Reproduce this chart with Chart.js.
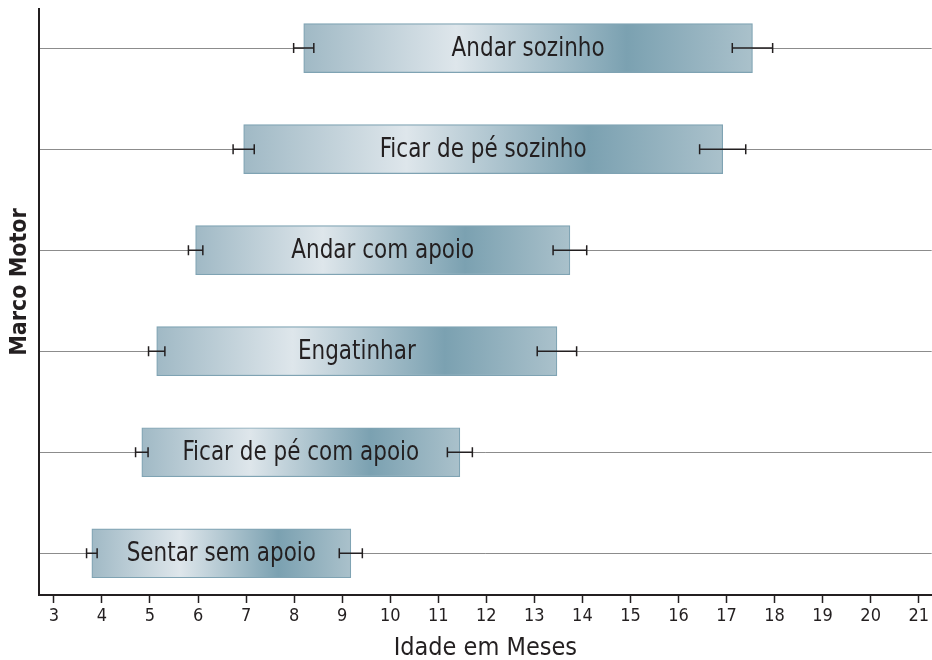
<!DOCTYPE html>
<html lang="pt">
<head>
<meta charset="utf-8">
<title>Marco Motor</title>
<script src="https://cdn.jsdelivr.net/npm/chart.js@4/dist/chart.umd.min.js"></script>
<style>
	html, body { margin: 0; padding: 0; background: #fff; }
	#wrap { width: 932px; height: 660px; }
</style>
</head>
<body>
<div id="wrap"><canvas id="chart"></canvas></div>
<script>
// marcos motores, de baixo para cima
const MARCOS = [
	"Sentar sem apoio",
	"Ficar de pé com apoio",
	"Engatinhar",
	"Andar com apoio",
	"Ficar de pé sozinho",
	"Andar sozinho",
];
const POSICAO = [1, 2, 3, 4, 5, 6];
// idade (meses) de inicio e fim de cada faixa
const INICIO = [3.79, 4.83, 5.14, 5.95, 6.95, 8.2];
const FIM = [9.18, 11.45, 13.47, 13.74, 16.92, 17.54];
// barras de erro em cada extremidade
const ERRO_INICIO = [0.11, 0.13, 0.17, 0.15, 0.22, 0.21];
const ERRO_FIM = [0.24, 0.26, 0.41, 0.35, 0.48, 0.42];
const X_TICKS = [3, 4, 5, 6, 7, 8, 9, 10, 11, 12, 13, 14, 15, 16, 17, 18, 19, 20, 21];

const FONTE = "'Liberation Sans Narrow', 'DejaVu Sans Condensed', Arial, sans-serif";
const TINTA = "#231f20";

function gradiente(ctx) {
	const chart = ctx.chart;
	if (!chart.chartArea || ctx.dataIndex === undefined) return "#a9c0cb";
	const x = chart.scales.x;
	const x0 = x.getPixelForValue(INICIO[ctx.dataIndex]);
	const x1 = x.getPixelForValue(FIM[ctx.dataIndex]);
	const g = chart.ctx.createLinearGradient(x0, 0, x1, 0);
	g.addColorStop(0, "#a0b9c5");
	g.addColorStop(0.34, "#dee6eb");
	g.addColorStop(0.72, "#7ba1b1");
	g.addColorStop(1, "#aac1cb");
	return g;
}

const rotulosEErros = {
	id: "rotulosEErros",
	afterDatasetsDraw(chart) {
		const { ctx, chartArea } = chart;
		const sx = chart.scales.x;
		const sy = chart.scales.y;
		ctx.save();
		ctx.strokeStyle = TINTA;
		ctx.lineWidth = 1.5;
		const erro = (v, e, y) => {
			const a = sx.getPixelForValue(v - e);
			const b = sx.getPixelForValue(v + e);
			ctx.beginPath();
			ctx.moveTo(a, y);
			ctx.lineTo(b, y);
			ctx.moveTo(a, y - 5);
			ctx.lineTo(a, y + 5);
			ctx.moveTo(b, y - 5);
			ctx.lineTo(b, y + 5);
			ctx.stroke();
		};
		ctx.fillStyle = TINTA;
		ctx.font = "26px " + FONTE;
		ctx.textAlign = "center";
		ctx.textBaseline = "middle";
		MARCOS.forEach((nome, i) => {
			const y = sy.getPixelForValue(POSICAO[i]);
			erro(INICIO[i], ERRO_INICIO[i], y);
			erro(FIM[i], ERRO_FIM[i], y);
			const cx = (sx.getPixelForValue(INICIO[i]) + sx.getPixelForValue(FIM[i])) / 2;
			// texto um pouco estreitado, como no original
			ctx.save();
			ctx.translate(cx, y + 1);
			ctx.scale(0.92, 1);
			ctx.fillText(nome, 0, 0);
			ctx.restore();
		});
		// titulo do eixo y
		ctx.translate(chartArea.left - 19, (chartArea.top + chartArea.bottom) / 2 - 20);
		ctx.rotate(-Math.PI / 2);
		ctx.font = "bold 23px " + FONTE;
		ctx.fillText("Marco Motor", 0, 0);
		ctx.restore();
	},
};

new Chart(document.getElementById("chart"), {
	type: "bar",
	data: {
		datasets: [
			{
				data: MARCOS.map((_, i) => ({ y: POSICAO[i], x: [INICIO[i], FIM[i]] })),
				backgroundColor: gradiente,
				borderColor: "#7fa3b3",
				borderWidth: 1.2,
				borderSkipped: false,
				barThickness: 49,
			},
		],
	},
	options: {
		indexAxis: "y",
		responsive: true,
		maintainAspectRatio: false,
		animation: false,
		layout: { padding: { left: 39, top: 9, right: 0, bottom: 0 } },
		plugins: {
			legend: { display: false },
			tooltip: { enabled: false },
		},
		scales: {
			x: {
				type: "linear",
				min: 2.69,
				max: 21.27,
				afterBuildTicks: (s) => {
					s.ticks = X_TICKS.map((v) => ({ value: v }));
				},
				afterFit: (s) => {
					s.height = 65;
				},
				grid: {
					drawOnChartArea: false,
					drawTicks: true,
					tickLength: 8,
					tickColor: TINTA,
					tickWidth: 1.5,
				},
				border: { color: TINTA, width: 2 },
				ticks: {
					color: TINTA,
					font: { family: FONTE, size: 18 },
					padding: 3,
					maxRotation: 0,
					autoSkip: false,
				},
				title: {
					display: true,
					text: "Idade em Meses",
					color: TINTA,
					font: { family: FONTE, size: 25, lineHeight: 0.9 },
					padding: { top: 0, bottom: 0 },
				},
			},
			y: {
				type: "linear",
				min: 0.587,
				max: 6.387,
				offset: false,
				afterBuildTicks: (s) => {
					s.ticks = POSICAO.map((v) => ({ value: v }));
				},
				afterFit: (s) => {
					s.width = 0;
				},
				grid: {
					color: "#8c8c8c",
					lineWidth: 1,
					offset: false,
					drawTicks: false,
				},
				border: { color: TINTA, width: 2 },
				ticks: { display: false },
			},
		},
	},
	plugins: [rotulosEErros],
});
</script>
</body>
</html>
